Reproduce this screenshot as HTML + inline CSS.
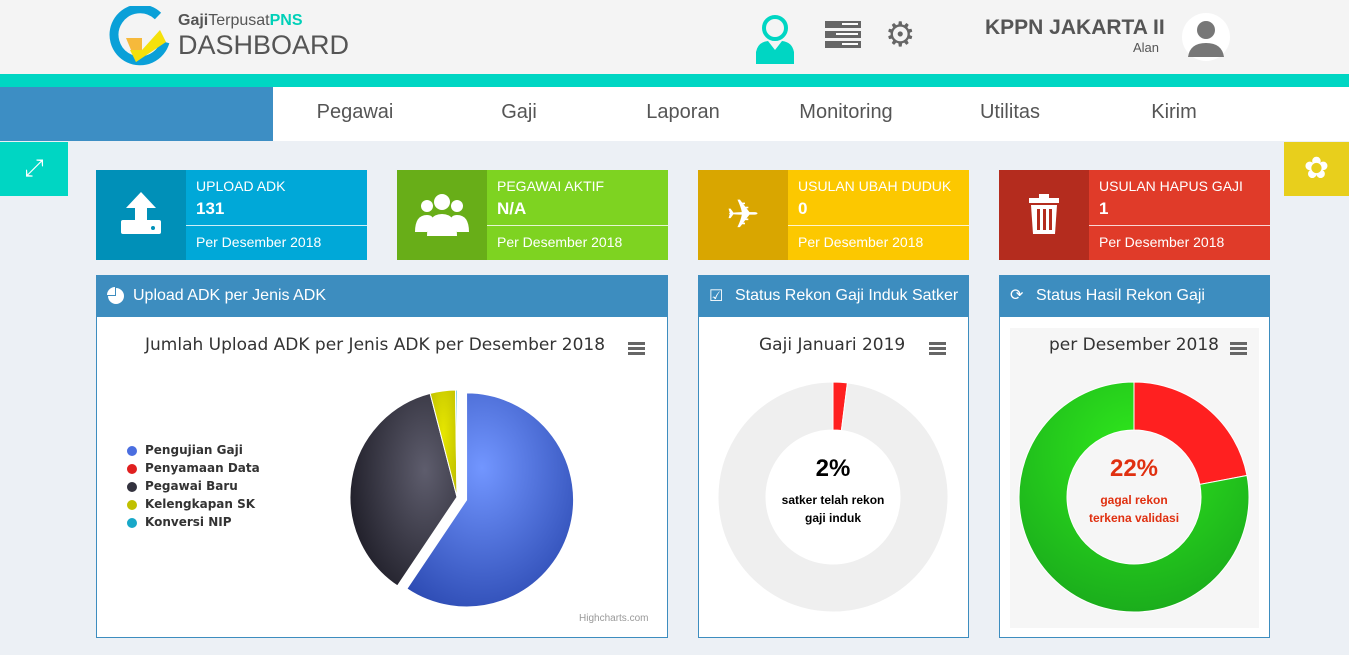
<!DOCTYPE html>
<html><head><meta charset="utf-8">
<style>
*{box-sizing:border-box;margin:0;padding:0}
body{width:1349px;height:655px;overflow:hidden;background:#ecf0f5;font-family:"Liberation Sans",sans-serif;position:relative}
.abs{position:absolute}
.header{left:0;top:0;width:1349px;height:74px;background:#f4f4f4}
.teal{left:0;top:74px;width:1349px;height:13px;background:#00d6c3}
.nav{left:0;top:87px;width:1349px;height:54px;background:#fff}
.nav .blk{position:absolute;left:0;top:0;width:273px;height:54px;background:#3d8ec4}
.nav span{position:absolute;top:14px;font-size:20px;color:#555;transform:translateX(-50%)}
.stat{top:170px;height:90px;width:271px;color:#fff}
.stat .ic{position:absolute;left:0;top:0;width:90px;height:90px}
.stat .t{position:absolute;left:100px;top:8px;font-size:14px}
.stat .v{position:absolute;left:100px;top:29px;font-size:17px;font-weight:bold}
.stat .ln{position:absolute;left:90px;right:0;top:55px;height:1px;background:rgba(255,255,255,.8)}
.stat .p{position:absolute;left:100px;top:64px;font-size:14px}
.panel{top:275px;height:363px;background:#fff;border:1px solid #3d8dbf}
.panel .hd{position:absolute;left:0;top:0;right:0;height:41px;background:#3d8dbf;color:#fff;font-size:16px;padding:11px 0 0 36px}
.ttl{font-family:"DejaVu Sans",sans-serif;font-size:17px;color:#333;position:absolute}
.menu{position:absolute;width:17px;height:13px;border-top:3px solid #666;border-bottom:3px solid #666}
.menu:after{content:"";position:absolute;left:0;right:0;top:2px;height:3px;background:#666}
.leg{position:absolute;font-family:"DejaVu Sans",sans-serif;font-size:12px;font-weight:bold;color:#333}
.leg div{height:18px;position:relative;padding-left:20px}
.leg i{position:absolute;left:2px;top:3px;width:10px;height:10px;border-radius:50%}
</style></head><body>
<div class="abs header"></div>
<svg class="abs" style="left:108px;top:6px" width="64" height="62">
<path d="M50 10 A26 26 0 1 0 57 36" fill="none" stroke="#0aa0d8" stroke-width="9"/>
<path d="M18 32 L34 32 L34 48 L28 56 Z" fill="#f6b93b"/><path d="M28 56 L22 44 L34 44 L52 24 L58 36 Z" fill="#f5e10a"/></svg>
<div class="abs" style="left:178px;top:12px;font-size:16px;color:#555"><b>Gaji</b>Terpusat<b style="color:#00d0b8">PNS</b></div>
<div class="abs" style="left:178px;top:30px;font-size:27px;color:#555">DASHBOARD</div>
<svg class="abs" style="left:754px;top:14px" width="42" height="50"><circle cx="21" cy="14" r="11" fill="none" stroke="#00d6c3" stroke-width="4"/><path d="M2 50 L2 38 Q4 28 14 27 L21 36 L28 27 Q38 28 40 38 L40 50Z" fill="#00d6c3"/></svg>
<svg class="abs" style="left:825px;top:21px" width="36" height="28"><rect y="0" width="36" height="7" fill="#666"/><rect y="10" width="36" height="7" fill="#666"/><rect y="20" width="36" height="7" fill="#666"/><rect x="17" y="2" width="16" height="2" fill="#fff"/><rect x="11" y="12" width="22" height="2" fill="#fff"/><rect x="17" y="22" width="16" height="2" fill="#fff"/></svg>
<div class="abs" style="left:885px;top:15px;font-size:34px;color:#666;line-height:40px">⚙</div>
<div class="abs" style="left:985px;top:16px;font-size:21px;font-weight:bold;color:#555">KPPN JAKARTA II</div>
<div class="abs" style="left:1133px;top:40px;font-size:13px;color:#555">Alan</div>
<svg class="abs" style="left:1182px;top:13px" width="48" height="48"><circle cx="24" cy="24" r="24" fill="#fff"/><circle cx="24" cy="17" r="9" fill="#777"/><path d="M6 44 Q8 30 24 30 Q40 30 42 44 Z" fill="#777"/></svg>
<div class="abs teal"></div>
<div class="abs nav"><div class="blk"></div>
<span style="left:355px">Pegawai</span>
<span style="left:519px">Gaji</span>
<span style="left:683px">Laporan</span>
<span style="left:846px">Monitoring</span>
<span style="left:1010px">Utilitas</span>
<span style="left:1174px">Kirim</span></div>
<div class="abs" style="left:0;top:142px;width:68px;height:54px;background:#00d6c3;color:#fff;font-size:24px;text-align:center;line-height:54px">⤢</div>
<div class="abs" style="left:1284px;top:142px;width:65px;height:54px;background:#e8cf1c;color:#fff;font-size:30px;text-align:center;line-height:54px">✿</div>

<div class="abs stat" style="left:96px;background:#00a8d8"><div class="ic" style="background:#0090b8"><svg width="90" height="90"><path d="M45 22 L60 38 L51 38 L51 50 L39 50 L39 38 L30 38Z" fill="#fff"/><rect x="25" y="50" width="40" height="14" rx="2" fill="#fff"/><circle cx="57" cy="58" r="2" fill="#0090b8"/></svg></div><div class="t">UPLOAD ADK</div><div class="v">131</div><div class="ln"></div><div class="p">Per Desember 2018</div></div>
<div class="abs stat" style="left:397px;background:#7ed321"><div class="ic" style="background:#68ae18"><svg width="90" height="90"><circle cx="45" cy="32" r="8" fill="#fff"/><circle cx="30" cy="36" r="6" fill="#fff"/><circle cx="60" cy="36" r="6" fill="#fff"/><path d="M30 66 Q30 44 45 44 Q60 44 60 66Z" fill="#fff"/><path d="M18 62 Q18 45 30 45 Q36 45 36 50 L30 62Z M72 62 Q72 45 60 45 Q54 45 54 50 L60 62Z" fill="#fff"/></svg></div><div class="t">PEGAWAI AKTIF</div><div class="v">N/A</div><div class="ln"></div><div class="p">Per Desember 2018</div></div>
<div class="abs stat" style="left:698px;background:#fcc800"><div class="ic" style="background:#d9a600;font-size:40px;text-align:center;line-height:90px">✈</div><div class="t">USULAN UBAH DUDUK</div><div class="v">0</div><div class="ln"></div><div class="p">Per Desember 2018</div></div>
<div class="abs stat" style="left:999px;background:#e03b29"><div class="ic" style="background:#b42c1e"><svg width="90" height="90"><rect x="30" y="28" width="30" height="5" fill="#fff"/><rect x="40" y="24" width="10" height="5" fill="#fff"/><path d="M32 35 L58 35 L56 64 L34 64Z" fill="#fff"/><rect x="38" y="39" width="3" height="21" fill="#b42c1e"/><rect x="44" y="39" width="3" height="21" fill="#b42c1e"/><rect x="50" y="39" width="3" height="21" fill="#b42c1e"/></svg></div><div class="t">USULAN HAPUS GAJI</div><div class="v">1</div><div class="ln"></div><div class="p">Per Desember 2018</div></div>

<div class="abs panel" style="left:96px;width:572px"><div class="hd"><svg style="position:absolute;left:10px;top:11px" width="18" height="18"><path d="M9 9 L9 1 A8 8 0 1 1 1 9 Z" fill="#fff"/><path d="M8 8 L8 0 A8 8 0 0 0 0 8Z" fill="#fff"/></svg>Upload ADK per Jenis ADK</div>
<div class="ttl" style="left:48px;top:59px">Jumlah Upload ADK per Jenis ADK per Desember 2018</div>
<div class="menu" style="left:531px;top:66px"></div>
<div class="leg" style="left:28px;top:167px" id="leg"></div>
<div class="abs" style="left:482px;top:337px;font-size:10px;color:#999">Highcharts.com</div>
</div>
<div class="abs panel" style="left:698px;width:271px"><div class="hd" style="padding-left:36px"><span style="position:absolute;left:10px;top:10px">☑</span>Status Rekon Gaji Induk Satker</div>
<div class="ttl" style="left:60px;top:59px">Gaji Januari 2019</div>
<div class="menu" style="left:230px;top:66px"></div></div>
<div class="abs panel" style="left:999px;width:271px"><div class="hd"><span style="position:absolute;left:10px;top:9px">⟳</span>Status Hasil Rekon Gaji</div>
<div class="abs" style="left:10px;top:52px;width:249px;height:300px;background:#f6f6f6"></div>
<div class="ttl" style="left:49px;top:59px">per Desember 2018</div>
<div class="menu" style="left:230px;top:66px"></div></div>

<svg class="abs" style="left:0;top:0" width="1349" height="655" id="ch">
<defs>
<radialGradient id="gb" cx="0.45" cy="0.35" r="0.75"><stop offset="0" stop-color="#7296ff"/><stop offset="1" stop-color="#2a48b0"/></radialGradient>
<radialGradient id="gk" cx="0.7" cy="0.4" r="0.8"><stop offset="0" stop-color="#5e5d6d"/><stop offset="1" stop-color="#1b1a24"/></radialGradient>
<radialGradient id="gy" cx="0.5" cy="0.4" r="0.8"><stop offset="0" stop-color="#e6e600"/><stop offset="1" stop-color="#b8b800"/></radialGradient>
<radialGradient id="gg" cx="0.5" cy="0.3" r="0.8"><stop offset="0" stop-color="#2fe81c"/><stop offset="1" stop-color="#18a51c"/></radialGradient>
</defs></svg>
<div class="abs" style="left:733px;top:455px;width:200px;text-align:center"><div style="font-size:24px;color:#000;font-weight:bold">2%</div><div style="font-size:12px;font-weight:bold;color:#000;margin-top:8px;line-height:18px">satker telah rekon<br>gaji induk</div></div>
<div class="abs" style="left:1034px;top:455px;width:200px;text-align:center"><div style="font-size:24px;color:#e03010;font-weight:bold">22%</div><div style="font-size:12px;font-weight:bold;color:#e03010;margin-top:8px;line-height:18px">gagal rekon<br>terkena validasi</div></div>
<script>
const pieCategories=["Pengujian Gaji","Penyamaan Data","Pegawai Baru","Kelengkapan SK","Konversi NIP"];
const pieValues=[78,0,48,5,0.3];
const pieColors=["url(#gb)","#e02020","url(#gk)","url(#gy)","#16a8c8"];
const legColors=["#4a6ee0","#e02020","#33323e","#c0c000","#18a8c8"];
const rekonInduk=[2,98];
const hasilRekon=[22,78];
const NS="http://www.w3.org/2000/svg";
const svg=document.getElementById('ch');
function pt(cx,cy,r,a){return [cx+r*Math.sin(a),cy-r*Math.cos(a)];}
function arc(cx,cy,r,ri,a0,a1){
  const l=(a1-a0)>Math.PI?1:0;const p0=pt(cx,cy,r,a0),p1=pt(cx,cy,r,a1);
  if(ri===0)return `M${cx},${cy}L${p0}A${r},${r} 0 ${l} 1 ${p1}Z`;
  const q0=pt(cx,cy,ri,a1),q1=pt(cx,cy,ri,a0);
  return `M${p0}A${r},${r} 0 ${l} 1 ${p1}L${q0}A${ri},${ri} 0 ${l} 0 ${q1}Z`;}
function drawPie(cx,cy,r,ri,vals,cols,name,sliceIdx){
  const tot=vals.reduce((a,b)=>a+b,0);let a=0;
  vals.forEach((v,i)=>{const a1=a+v/tot*2*Math.PI;
    if(v>0){let x=cx,y=cy;if(i===sliceIdx){const m=(a+a1)/2;x+=10*Math.sin(m);y-=10*Math.cos(m);}
    const p=document.createElementNS(NS,'path');p.setAttribute('d',arc(x,y,r,ri,a,Math.min(a1,a+2*Math.PI-1e-4)));
    p.setAttribute('fill',cols[i]);p.setAttribute('stroke','#fff');p.setAttribute('stroke-width','1');
    
    
    svg.appendChild(p);}
    a=a1;});}
drawPie(457,497,107,0,pieValues,pieColors,'adk-pie',0);
drawPie(833,497,115,67,rekonInduk,["#ff2020","#efefef"],'rekon-induk-donut',-1);
drawPie(1134,497,115,67,hasilRekon,["#ff2020","url(#gg)"],'hasil-rekon-donut',-1);
const leg=document.getElementById('leg');
pieCategories.forEach((c,i)=>{const d=document.createElement('div');
  
  
  d.innerHTML='<i style="background:'+legColors[i]+'"></i>'+c;leg.appendChild(d);});
</script>
</body></html>
